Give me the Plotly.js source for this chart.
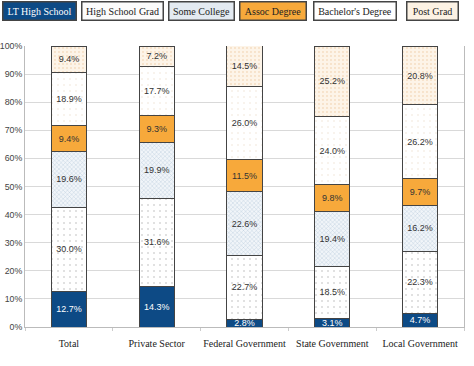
<!DOCTYPE html>
<html>
<head>
<meta charset="utf-8">
<script src="https://cdn.plot.ly/plotly-3.0.1.min.js"></script>
<style>html,body{margin:0;padding:0;background:#fff;}#chart{width:474px;height:366px;}</style>
</head>
<body>
<div id="chart"></div>
<script>
const categories = ["Total", "Private Sector", "Federal Government", "State Government", "Local Government"];
const seriesNames = ["LT High School", "High School Grad", "Some College", "Assoc Degree", "Bachelor's Degree", "Post Grad"];
const ltHighSchool = [12.7, 14.3, 2.8, 3.1, 4.7];
const highSchoolGrad = [30.0, 31.6, 22.7, 18.5, 22.3];
const someCollege = [19.6, 19.9, 22.6, 19.4, 16.2];
const assocDegree = [9.4, 9.3, 11.5, 9.8, 9.7];
const bachelors = [18.9, 17.7, 26.0, 24.0, 26.2];
const postGrad = [9.4, 7.2, 14.5, 25.2, 20.8];
const yTickVals = [0, 10, 20, 30, 40, 50, 60, 70, 80, 90, 100];
const yTickText = ["0%", "10%", "20%", "30%", "40%", "50%", "60%", "70%", "80%", "90%", "100%"];

const serif = "Liberation Serif";
const sans = "Liberation Sans";

const seriesValues = [ltHighSchool, highSchoolGrad, someCollege, assocDegree, bachelors, postGrad];
const styles = [
  {color: "#0d4a85", pattern: null, text: "#ffffff", legendBg: "#0d4a85", legendText: "#ffffff"},
  {color: "#ffffff", pattern: {shape: ".", bgcolor: "#ffffff", fgcolor: "#b5b5b5", size: 6, solidity: 0.05, fillmode: "replace"}, text: "#333333", legendBg: "#fbfbfb", legendText: "#222222"},
  {color: "#e6edf4", pattern: {shape: "x", bgcolor: "#f1f5f9", fgcolor: "#a9bfd4", size: 3, solidity: 0.2, fillmode: "replace"}, text: "#333333", legendBg: "#e3eaf1", legendText: "#222222"},
  {color: "#f7a93b", pattern: null, text: "#333333", legendBg: "#f7a93b", legendText: "#222222"},
  {color: "#ffffff", pattern: {shape: ".", bgcolor: "#ffffff", fgcolor: "#efe2d2", size: 6, solidity: 0.05, fillmode: "replace"}, text: "#333333", legendBg: "#ffffff", legendText: "#222222"},
  {color: "#fdf2e3", pattern: {shape: ".", bgcolor: "#fdf4e8", fgcolor: "#efcaa0", size: 4, solidity: 0.1, fillmode: "replace"}, text: "#333333", legendBg: "#fcf2e4", legendText: "#222222"}
];

const traces = seriesValues.map((vals, i) => {
  const marker = {color: styles[i].color, line: {color: "#444444", width: 1}};
  if (styles[i].pattern) marker.pattern = styles[i].pattern;
  return {
    type: "bar",
    name: seriesNames[i],
    x: categories,
    y: vals,
    marker: marker,
    width: 0.4,
    texttemplate: "%{y:.1f}%",
    textposition: "inside",
    insidetextanchor: "middle",
    constraintext: "none",
    textangle: 0,
    textfont: {family: sans, size: 9, color: styles[i].text},
    hoverinfo: "skip",
    showlegend: false
  };
});

const plotL = 25, plotR = 464, plotT = 46, plotB = 327;
const pw = plotR - plotL, ph = plotB - plotT;
const legendBoxes = [[1, 77], [80, 164], [167, 235], [238, 307], [312, 397], [405, 459]];
const annotations = legendBoxes.map((b, i) => ({
  xref: "paper", yref: "paper",
  x: ((b[0] + b[1]) / 2 - plotL) / pw,
  y: (plotB - 11.5) / ph,
  xanchor: "center", yanchor: "middle",
  text: seriesNames[i],
  showarrow: false,
  width: b[1] - b[0] - 4,
  height: 17,
  bgcolor: styles[i].legendBg,
  bordercolor: "#444444",
  borderwidth: 1.5,
  borderpad: 0,
  font: {family: serif, size: 10, color: styles[i].legendText}
}));

const layout = {
  width: 474, height: 366,
  margin: {l: plotL, r: 474 - plotR, t: plotT, b: 366 - plotB},
  paper_bgcolor: "#ffffff",
  plot_bgcolor: "#ffffff",
  barmode: "stack",
  uniformtext: {minsize: 9, mode: "show"},
  showlegend: false,
  xaxis: {
    type: "category",
    showgrid: false,
    showline: true, linecolor: "#bbbbbb", linewidth: 1,
    ticks: "outside", tickson: "boundaries", ticklen: 3, tickcolor: "#cccccc",
    tickangle: 0,
    tickfont: {family: serif, size: 10, color: "#222222"},
    ticklabelstandoff: 7,
    fixedrange: true
  },
  yaxis: {
    range: [0, 100],
    tickvals: yTickVals,
    ticktext: yTickText,
    showgrid: true, gridcolor: "#d9d9d9", gridwidth: 1,
    showline: true, linecolor: "#bbbbbb", linewidth: 1, mirror: true,
    zeroline: false,
    ticks: "",
    tickfont: {family: sans, size: 8.8, color: "#444444"},
    ticklabelstandoff: 0,
    fixedrange: true
  },
  annotations: annotations
};

Plotly.newPlot("chart", traces, layout, {displayModeBar: false, staticPlot: true});
</script>
</body>
</html>
